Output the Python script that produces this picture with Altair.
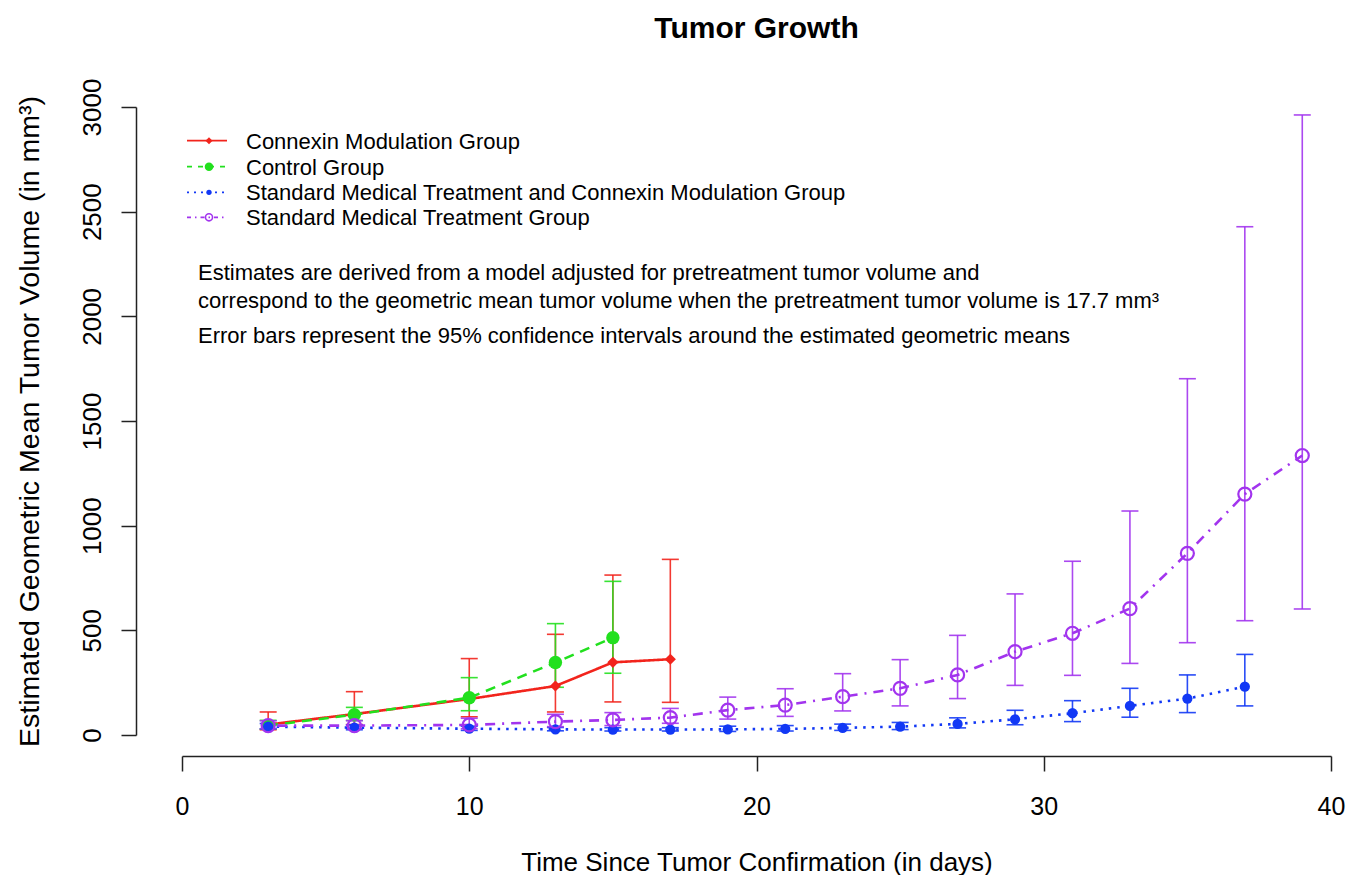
import altair as alt
import pandas as pd

# ---------------- data ----------------
series_names = [
    "Connexin Modulation Group",
    "Control Group",
    "Standard Medical Treatment and Connexin Modulation Group",
    "Standard Medical Treatment Group",
]

# Connexin Modulation Group
cm_days = [3, 6, 10, 13, 15, 17]
cm_est = [50, 100, 172, 234, 347, 362]
cm_lo = [25, 50, 87, 110, 158, 156]
cm_hi = [110, 207, 365, 481, 764, 839]

# Control Group
ctl_days = [3, 6, 10, 13, 15]
ctl_est = [45, 97, 178, 346, 465]
ctl_lo = [28, 70, 116, 228, 295]
ctl_hi = [70, 132, 274, 532, 734]

# Standard Medical Treatment and Connexin Modulation Group
smcm_days = [3, 6, 10, 13, 15, 17, 19, 21, 23, 25, 27, 29, 31, 33, 35, 37]
smcm_est = [40, 35, 30, 27, 26, 26, 27, 29, 34, 40, 53, 75, 104, 139, 174, 231]
smcm_lo = [30, 25, 22, 20, 19, 19, 17, 19, 22, 26, 34, 49, 64, 85, 107, 139]
smcm_hi = [55, 48, 42, 36, 35, 35, 42, 45, 52, 60, 82, 118, 164, 223, 287, 385]

# Standard Medical Treatment Group
smt_days = [3, 6, 10, 13, 15, 17, 19, 21, 23, 25, 27, 29, 31, 33, 35, 37, 39]
smt_est = [45, 45, 48, 64, 72, 83, 119, 143, 183, 223, 287, 398, 486, 604, 868, 1151, 1335]
smt_lo = [30, 30, 30, 40, 45, 56, 76, 89, 115, 139, 174, 237, 285, 342, 441, 546, 602]
smt_hi = [68, 68, 80, 99, 107, 127, 181, 221, 293, 360, 476, 674, 830, 1070, 1702, 2428, 2962]

x_ticks = [0, 10, 20, 30, 40]
y_ticks = [0, 500, 1000, 1500, 2000, 2500, 3000]

title_text = "Tumor Growth"
x_title = "Time Since Tumor Confirmation (in days)"
y_title = "Estimated Geometric Mean Tumor Volume (in mm³)"
notes = [
    "Estimates are derived from a model adjusted for pretreatment tumor volume and",
    "correspond to the geometric mean tumor volume when the pretreatment tumor volume is 17.7 mm³",
    "Error bars represent the 95% confidence intervals around the estimated geometric means",
]

# ---------------- styling ----------------
FONT = "Liberation Sans"
colors = ["#F2241C", "#22E01E", "#1238F5", "#A234EE"]
dashes = [[1, 0], [10, 7], [2.5, 6], [2, 7, 10, 7]]
legend_dashes = [[1, 0], [5, 6], [2, 5], [4, 4, 1.5, 4]]
shapes = ["diamond", "circle", "circle", "circle"]
filled = [True, True, True, False]
sizes = [125, 180, 105, 170]
legend_sizes = [50, 72, 28, 50]

frames = []
for name, d, e, lo, hi in [
    (series_names[0], cm_days, cm_est, cm_lo, cm_hi),
    (series_names[1], ctl_days, ctl_est, ctl_lo, ctl_hi),
    (series_names[2], smcm_days, smcm_est, smcm_lo, smcm_hi),
    (series_names[3], smt_days, smt_est, smt_lo, smt_hi),
]:
    frames.append(pd.DataFrame({"series": name, "day": d, "est": e, "lo": lo, "hi": hi}))

W, H = 1149, 628

xscale = alt.Scale(domain=[0, 40], nice=False, zero=False)
yscale = alt.Scale(domain=[0, 3000], nice=False)
xaxis = alt.Axis(
    values=x_ticks, title=x_title, offset=21, tickSize=15, labelPadding=23,
    labelFontSize=25, titleFontSize=26, titleFontWeight="normal", grid=False,
    labelFont=FONT, titleFont=FONT, domainColor="#222222", tickColor="#222222",
    labelColor="black", titleColor="black", domainWidth=1.5, tickWidth=1.5,
    titleY=114, titleBaseline="alphabetic", format="d", labelFlush=False,
)
yaxis = alt.Axis(
    values=y_ticks, title=y_title, offset=46, tickSize=15, labelPadding=16,
    labelFontSize=26, titleFontSize=28.5, titleFontWeight="normal", grid=False,
    labelAngle=270, labelAlign="center", labelBaseline="bottom",
    labelFont=FONT, titleFont=FONT, domainColor="#222222", tickColor="#222222",
    labelColor="black", titleColor="black", domainWidth=1.5, tickWidth=1.5,
    titleX=-98, titleBaseline="alphabetic", format="d", labelFlush=False,
)


def X(field):
    return alt.X(f"{field}:Q", scale=xscale, axis=xaxis)


def Y(field):
    return alt.Y(f"{field}:Q", scale=yscale, axis=yaxis)


bars, lines, points = [], [], []
for i, df in enumerate(frames):
    base = alt.Chart(df)
    bars.append(base.mark_rule(color=colors[i], strokeWidth=1.6, opacity=0.9).encode(
        x=X("day"), y=Y("lo"), y2="hi"))
    bars.append(base.mark_tick(color=colors[i], orient="horizontal", size=17, thickness=1.6,
                               opacity=0.9).encode(x=X("day"), y=Y("hi")))
    bars.append(base.mark_tick(color=colors[i], orient="horizontal", size=17, thickness=1.6,
                               opacity=0.9).encode(x=X("day"), y=Y("lo")))
    lines.append(base.mark_line(color=colors[i], strokeWidth=2.6, strokeDash=dashes[i]).encode(
        x=X("day"), y=Y("est")))
    points.append(base.mark_point(color=colors[i], shape=shapes[i], filled=filled[i],
                                  size=sizes[i], strokeWidth=2.2, opacity=1).encode(
        x=X("day"), y=Y("est")))

# legend (drawn manually to mimic the line + symbol keys)
legend_layers = []
leg_y = [33.7, 59.7, 85.3, 110.3]
for i, name in enumerate(series_names):
    lb = alt.Chart(pd.DataFrame({"label": [name]}))
    legend_layers.append(lb.mark_rule(color=colors[i], strokeWidth=1.8,
                                      strokeDash=legend_dashes[i]).encode(
        x=alt.value(5), x2=alt.value(45), y=alt.value(leg_y[i])))
    legend_layers.append(lb.mark_point(color=colors[i], shape=shapes[i], filled=filled[i],
                                       size=legend_sizes[i], strokeWidth=1.6, opacity=1).encode(
        x=alt.value(27), y=alt.value(leg_y[i])))
    legend_layers.append(lb.mark_text(align="left", baseline="middle", font=FONT, fontSize=22,
                                      color="black").encode(
        x=alt.value(64), y=alt.value(leg_y[i] + 1), text="label:N"))

note_y = [166, 194, 229]
note_layers = []
for k in range(3):
    note_layers.append(alt.Chart(pd.DataFrame({"txt": [notes[k]]})).mark_text(
        align="left", baseline="middle", font=FONT, fontSize=22, color="black").encode(
        x=alt.value(16), y=alt.value(note_y[k]), text="txt:N"))

title_layer = alt.Chart(pd.DataFrame({"t": [title_text]})).mark_text(
    align="center", baseline="alphabetic", font=FONT, fontSize=30, fontWeight="bold",
    color="black").encode(x=alt.value(W / 2), y=alt.value(-69), text="t:N")

chart = alt.layer(*bars, *lines, *points, *legend_layers, *note_layers, title_layer).properties(
    width=W, height=H,
    background="white",
    autosize=alt.AutoSizeParams(type="none"),
    padding={"left": 174, "top": 99, "right": 20, "bottom": 140},
).configure_view(strokeWidth=0, stroke="transparent")

chart.save("out.html", embed_options={"renderer": "svg", "actions": False})
